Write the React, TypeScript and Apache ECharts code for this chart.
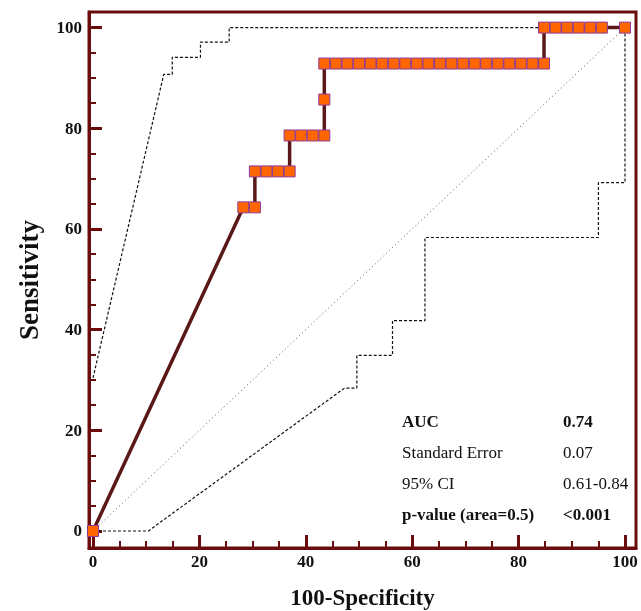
import React, { useEffect, useRef } from "react";
import * as echarts from "echarts";

// ROC curve points (100-Specificity, Sensitivity)
const rocX = [0, 28.26, 30.43, 30.43, 32.61, 34.78, 36.96, 36.96, 39.13, 41.3, 43.48, 43.48, 43.48,
  45.65, 47.83, 50.0, 52.17, 54.35, 56.52, 58.7, 60.87, 63.04, 65.22, 67.39, 69.57, 71.74, 73.91,
  76.09, 78.26, 80.43, 82.61, 84.78, 84.78, 86.96, 89.13, 91.3, 93.48, 95.65, 100];
const rocY = [0, 64.29, 64.29, 71.43, 71.43, 71.43, 71.43, 78.57, 78.57, 78.57, 78.57, 85.71, 92.86,
  92.86, 92.86, 92.86, 92.86, 92.86, 92.86, 92.86, 92.86, 92.86, 92.86, 92.86, 92.86, 92.86, 92.86,
  92.86, 92.86, 92.86, 92.86, 92.86, 100, 100, 100, 100, 100, 100, 100];

// Upper 95% confidence bound
const upperX = [0, 13.3, 14.9, 14.9, 20.2, 20.2, 25.6, 25.6, 100];
const upperY = [30.4, 90.7, 90.7, 94.1, 94.1, 97.1, 97.1, 100, 100];

// Lower 95% confidence bound
const lowerX = [0, 10.4, 47.3, 49.6, 49.6, 56.3, 56.3, 62.4, 62.4, 95.0, 95.0, 100, 100];
const lowerY = [0, 0, 28.4, 28.4, 34.9, 34.9, 41.8, 41.8, 58.3, 58.3, 69.2, 69.2, 100];

// Reference diagonal
const diagX = [0, 100];
const diagY = [0, 100];

// Ticks
const majorTicks = [0, 20, 40, 60, 80, 100];
const minorTicks = [5, 10, 15, 25, 30, 35, 45, 50, 55, 65, 70, 75, 85, 90, 95];

// Statistics table
const statNames = ["AUC", "Standard Error", "95% CI", "p-value (area=0.5)"];
const statValues = ["0.74", "0.07", "0.61-0.84", "<0.001"];
const statBold = [true, false, false, true];

const FRAME = "#6a0c0c";
const SERIF = "'Times New Roman', 'Liberation Serif', serif";

const zip = (xs: number[], ys: number[]) => xs.map((x, i) => [x, ys[i]]);

export default function App() {
  const ref = useRef<HTMLDivElement>(null);
  useEffect(() => {
    if (!ref.current) return;
    const chart = echarts.init(ref.current, null, { renderer: "svg" });

    const makeAxis = (isX: boolean, major: boolean) => {
      const base: any = {
        type: "value",
        min: isX ? -0.75 : -3.38,
        max: isX ? 102.07 : 103.1,
        position: isX ? "bottom" : "left",
        splitLine: { show: false },
        axisLine: { show: major, onZero: false, lineStyle: { color: FRAME, width: 3 } },
        axisTick: {
          show: true,
          inside: true,
          customValues: major ? majorTicks : minorTicks,
          length: major ? 13 : 7,
          lineStyle: { color: FRAME, width: major ? 3 : 2 },
        },
        axisLabel: major
          ? {
              show: true,
              customValues: majorTicks,
              color: "#111",
              fontFamily: SERIF,
              fontWeight: "bold",
              fontSize: 17,
              margin: isX ? 5 : 7,
            }
          : { show: false },
      };
      if (major) {
        base.name = isX ? "100-Specificity" : "Sensitivity";
        base.nameLocation = "middle";
        base.nameGap = isX ? 38 : 47;
        base.nameTextStyle = {
          color: "#111",
          fontFamily: SERIF,
          fontWeight: "bold",
          fontSize: isX ? 23 : 27,
        };
      }
      return base;
    };

    const graphics: any[] = [];
    statNames.forEach((n, i) => {
      const y = 423 + i * 31;
      const fw = statBold[i] ? "bold" : "normal";
      graphics.push({
        type: "text",
        left: 402,
        top: y - 10,
        style: { text: n, fontFamily: SERIF, fontSize: 17, fontWeight: fw, fill: "#111" },
      });
      graphics.push({
        type: "text",
        left: 563,
        top: y - 10,
        style: { text: statValues[i], fontFamily: SERIF, fontSize: 17, fontWeight: fw, fill: "#111" },
      });
    });

    chart.setOption({
      animation: false,
      grid: {
        left: 89,
        right: 5,
        top: 12,
        bottom: 63,
        show: true,
        borderColor: FRAME,
        borderWidth: 3,
        containLabel: false,
        outerBoundsMode: "none",
      },
      xAxis: [makeAxis(true, true), makeAxis(true, false)],
      yAxis: [makeAxis(false, true), makeAxis(false, false)],
      graphic: graphics,
      series: [
        {
          type: "line",
          data: zip(diagX, diagY),
          symbol: "none",
          lineStyle: { color: "#555", width: 1, type: [1, 3] },
          silent: true,
        },
        {
          type: "line",
          data: zip(upperX, upperY),
          symbol: "none",
          lineStyle: { color: "#111", width: 1.2, type: [3, 2] },
          silent: true,
        },
        {
          type: "line",
          data: zip(lowerX, lowerY),
          symbol: "none",
          lineStyle: { color: "#111", width: 1.2, type: [3, 2] },
          silent: true,
        },
        {
          type: "line",
          data: zip(rocX, rocY),
          symbol: "rect",
          symbolSize: 11,
          showAllSymbol: true,
          lineStyle: { color: "#5a1818", width: 3.5 },
          itemStyle: { color: "#ff6600", borderColor: "#8e3a9a", borderWidth: 1 },
          silent: true,
        },
      ],
    });
    return () => chart.dispose();
  }, []);
  return (
    <div
      ref={ref}
      style={{ position: "fixed", left: 0, top: 0, width: 641, height: 611 }}
    />
  );
}
